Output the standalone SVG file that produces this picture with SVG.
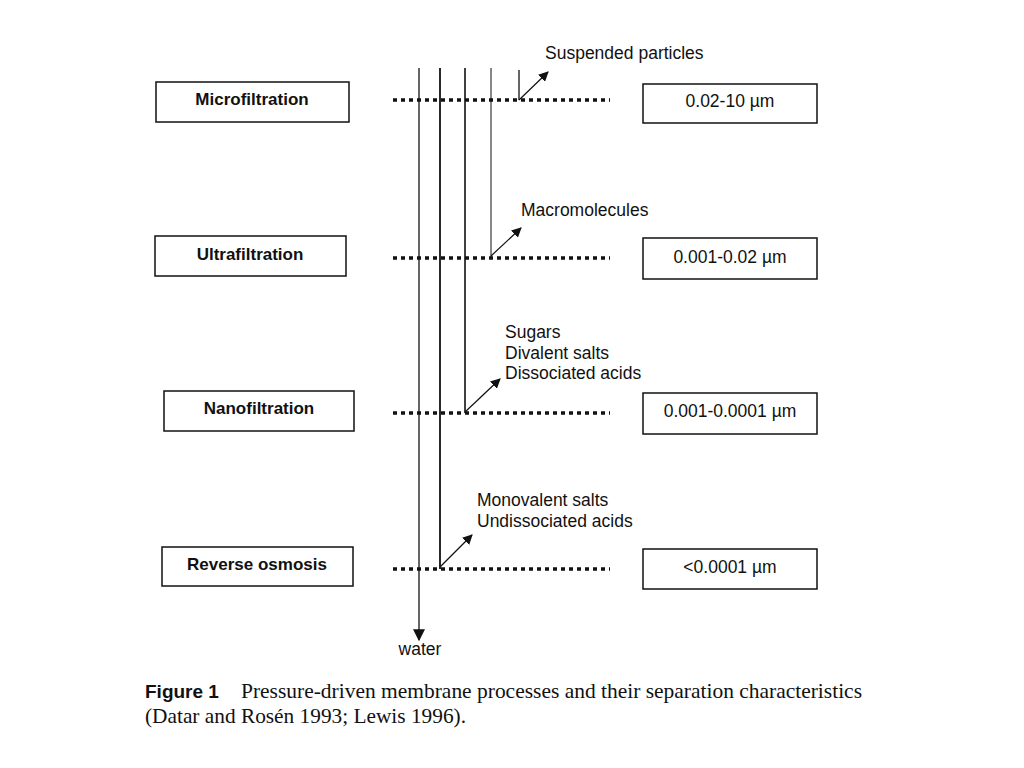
<svg xmlns="http://www.w3.org/2000/svg" width="1024" height="768" viewBox="0 0 1024 768">
<style>
.box{fill:#fff;stroke:#111;stroke-width:1.5}
.lbl{font-family:"Liberation Sans",Arial,sans-serif;font-size:17px;font-weight:bold;fill:#111}
.val{font-family:"Liberation Sans",Arial,sans-serif;font-size:17.5px;fill:#111}
.note{font-family:"Liberation Sans",Arial,sans-serif;font-size:17.5px;fill:#111}
.dot{stroke:#111;stroke-width:3.5;stroke-dasharray:4 4;fill:none}
.vl{stroke:#111;fill:none}
.arr{stroke:#111;stroke-width:1.2;fill:none;marker-end:url(#ah)}
.cap{font-family:"Liberation Serif","Times New Roman",serif;font-size:21px;fill:#111}
</style>
<defs>
<marker id="ah" viewBox="0 0 10 10" refX="9" refY="5" markerWidth="10" markerHeight="10" markerUnits="userSpaceOnUse" orient="auto"><path d="M0,0 L10,5 L0,10 z" fill="#111"/></marker>
<marker id="ahw" viewBox="0 0 10 10" refX="9" refY="5" markerWidth="12" markerHeight="12" markerUnits="userSpaceOnUse" orient="auto"><path d="M0,0 L10,5 L0,10 z" fill="#111"/></marker>
</defs>
<rect width="1024" height="768" fill="#fff"/>
<g id="connectors">
<line class="dot" x1="393" y1="100" x2="610" y2="100"/>
<line class="dot" x1="393" y1="258" x2="610" y2="258"/>
<line class="dot" x1="393" y1="413" x2="610" y2="413"/>
<line class="dot" x1="393" y1="569" x2="610" y2="569"/>
<line class="vl" x1="419" y1="68" x2="419" y2="640" stroke-width="1.3" style="marker-end:url(#ahw)"/>
<line class="vl" x1="440" y1="68" x2="440" y2="569" stroke-width="1.8"/>
<line class="vl" x1="465" y1="68" x2="465" y2="413" stroke-width="1.6"/>
<line class="vl" x1="491" y1="68" x2="491" y2="258" stroke-width="1" stroke="#555"/>
<line class="vl" x1="519" y1="70" x2="519" y2="100" stroke-width="1.3"/>
<line class="arr" x1="519" y1="100" x2="548" y2="72"/>
<line class="arr" x1="491" y1="256" x2="521" y2="228"/>
<line class="arr" x1="465" y1="412" x2="500" y2="379"/>
<line class="arr" x1="440" y1="567" x2="472" y2="535"/>
</g>
<g id="microfiltration">
<rect class="box" x="156" y="82" width="193" height="40"/>
<text class="lbl" x="252" y="105" text-anchor="middle">Microfiltration</text>
</g>
<g id="ultrafiltration">
<rect class="box" x="155" y="236" width="191" height="40"/>
<text class="lbl" x="250" y="260" text-anchor="middle">Ultrafiltration</text>
</g>
<g id="nanofiltration">
<rect class="box" x="164" y="391" width="190" height="40"/>
<text class="lbl" x="259" y="414" text-anchor="middle">Nanofiltration</text>
</g>
<g id="reverse-osmosis">
<rect class="box" x="162" y="547" width="191" height="39"/>
<text class="lbl" x="257" y="570" text-anchor="middle">Reverse osmosis</text>
</g>
<g id="mf-size">
<rect class="box" x="643" y="84" width="174" height="39"/>
<text class="val" x="730" y="107" text-anchor="middle">0.02-10 µm</text>
</g>
<g id="uf-size">
<rect class="box" x="643" y="238" width="174" height="41"/>
<text class="val" x="730" y="263" text-anchor="middle">0.001-0.02 µm</text>
</g>
<g id="nf-size">
<rect class="box" x="643" y="393" width="174" height="41"/>
<text class="val" x="730" y="417" text-anchor="middle">0.001-0.0001 µm</text>
</g>
<g id="ro-size">
<rect class="box" x="643" y="549" width="174" height="40"/>
<text class="val" x="730" y="573" text-anchor="middle">&lt;0.0001 µm</text>
</g>
<g id="notes">
<text class="note" x="545" y="59">Suspended particles</text>
<text class="note" x="521" y="216">Macromolecules</text>
<text class="note" x="505" y="338">Sugars</text>
<text class="note" x="505" y="359">Divalent salts</text>
<text class="note" x="505" y="379">Dissociated acids</text>
<text class="note" x="477" y="506">Monovalent salts</text>
<text class="note" x="477" y="527">Undissociated acids</text>
<text class="note" x="420" y="655" text-anchor="middle">water</text>
</g>
<g id="caption">
<text class="cap" x="145" y="698"><tspan font-family="Liberation Sans,Arial,sans-serif" font-weight="bold" font-size="19">Figure 1</tspan><tspan x="241" textLength="621" lengthAdjust="spacingAndGlyphs">Pressure-driven membrane processes and their separation characteristics</tspan></text>
<text class="cap" x="145" y="723" textLength="321" lengthAdjust="spacingAndGlyphs">(Datar and Rosén 1993; Lewis 1996).</text>
</g>
</svg>
